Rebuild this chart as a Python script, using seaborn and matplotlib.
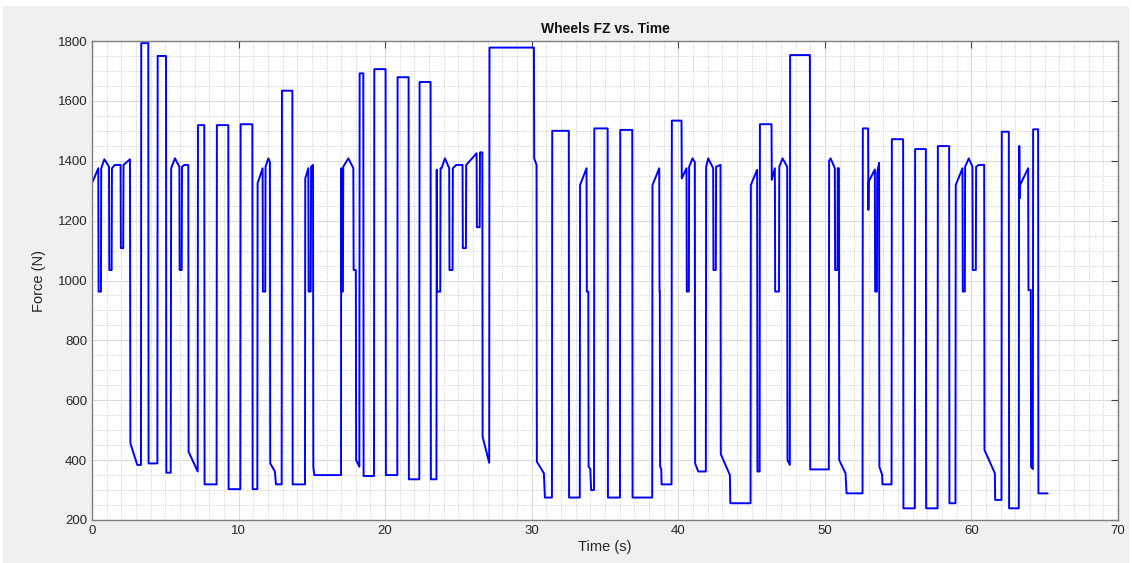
import numpy as np
import pandas as pd
import matplotlib
matplotlib.use('Agg')
import matplotlib.pyplot as plt
import seaborn as sns
from matplotlib.ticker import MultipleLocator
from matplotlib.patches import Rectangle

# breakpoints of the wheel load trace
time_s = [
    0.00, 0.43, 0.45, 0.61, 0.63, 0.84, 1.16, 1.18, 1.34, 1.36, 1.55, 1.95, 1.97, 2.13, 2.15, 2.59,
    2.62, 3.09, 3.34, 3.36, 3.84, 3.86, 4.46, 4.48, 5.05, 5.07, 5.37, 5.40, 5.66, 5.96, 5.98, 6.12,
    6.14, 6.30, 6.57, 6.59, 7.21, 7.23, 7.66, 7.68, 8.50, 8.52, 9.30, 9.32, 10.12, 10.14, 10.94, 10.96,
    11.28, 11.30, 11.64, 11.66, 11.82, 11.84, 12.03, 12.14, 12.16, 12.48, 12.55, 12.94, 12.96, 13.67,
    13.69, 14.53, 14.55, 14.76, 14.78, 14.92, 14.95, 15.08, 15.10, 15.17, 16.99, 17.00, 17.02, 17.12,
    17.14, 17.49, 17.83, 17.85, 18.00, 18.02, 18.24, 18.26, 18.51, 18.53, 19.24, 19.26, 20.03, 20.05,
    20.83, 20.85, 21.60, 21.62, 22.33, 22.35, 23.10, 23.12, 23.50, 23.52, 23.54, 23.76, 23.78, 23.85,
    24.08, 24.37, 24.39, 24.60, 24.62, 24.85, 25.28, 25.30, 25.51, 25.53, 26.24, 26.26, 26.45, 26.47,
    26.63, 26.65, 27.10, 27.12, 30.15, 30.17, 30.33, 30.35, 30.83, 30.90, 31.38, 31.40, 32.53, 32.55,
    33.28, 33.30, 33.74, 33.76, 33.86, 33.88, 34.00, 34.05, 34.25, 34.27, 35.18, 35.20, 36.02, 36.04,
    36.86, 36.88, 38.22, 38.24, 38.70, 38.72, 38.74, 38.76, 38.84, 38.86, 39.54, 39.56, 40.22, 40.24,
    40.56, 40.58, 40.72, 40.74, 40.97, 41.13, 41.15, 41.36, 41.88, 41.90, 42.04, 42.38, 42.40, 42.56,
    42.58, 42.88, 42.90, 43.52, 43.55, 44.93, 44.95, 45.38, 45.40, 45.55, 45.57, 46.36, 46.38, 46.59,
    46.61, 46.87, 46.89, 47.11, 47.43, 47.45, 47.61, 47.63, 48.98, 49.00, 50.27, 50.29, 50.39, 50.68,
    50.70, 50.86, 50.88, 50.96, 50.98, 51.41, 51.48, 52.57, 52.59, 52.95, 52.97, 52.99, 53.41, 53.43,
    53.55, 53.57, 53.70, 53.72, 53.91, 53.93, 54.55, 54.57, 55.34, 55.36, 56.14, 56.16, 56.89, 56.91,
    57.69, 57.71, 58.48, 58.50, 58.91, 58.93, 59.39, 59.41, 59.55, 59.57, 59.82, 60.07, 60.09, 60.30,
    60.32, 60.50, 60.87, 60.89, 61.60, 61.62, 62.05, 62.07, 62.55, 62.57, 63.23, 63.25, 63.28, 63.30,
    63.32, 63.87, 63.89, 64.05, 64.07, 64.19, 64.21, 64.55, 64.57, 65.20,
]
force_n = [
    1325, 1375, 963, 963, 1375, 1405, 1380, 1035, 1035, 1375, 1386, 1386, 1108, 1108, 1386, 1405,
    456, 384, 384, 1793, 1793, 389, 389, 1750, 1750, 358, 358, 1375, 1408, 1380, 1035, 1035,
    1380, 1386, 1386, 428, 362, 1519, 1519, 319, 319, 1519, 1519, 303, 303, 1522, 1522, 303,
    303, 1325, 1375, 963, 963, 1380, 1408, 1395, 389, 362, 319, 319, 1634, 1634,
    319, 319, 1341, 1375, 963, 963, 1380, 1386, 378, 350, 350, 1375, 963, 963,
    1380, 1408, 1375, 1035, 1035, 400, 378, 1692, 1692, 347, 347, 1706, 1706, 350,
    350, 1679, 1679, 336, 336, 1663, 1663, 336, 336, 1370, 963, 963, 1375, 1375,
    1408, 1375, 1035, 1035, 1375, 1386, 1386, 1108, 1108, 1386, 1425, 1178, 1178, 1428,
    1428, 478, 391, 1778, 1778, 1408, 1386, 395, 356, 275, 275, 1500, 1500, 275,
    275, 1319, 1375, 963, 963, 378, 370, 300, 300, 1508, 1508, 275, 275, 1503,
    1503, 275, 275, 1319, 1375, 963, 963, 378, 370, 319, 319, 1534, 1534, 1341,
    1375, 963, 963, 1380, 1408, 1395, 389, 362, 362, 1380, 1408, 1375, 1035, 1035,
    1380, 1386, 420, 350, 256, 256, 1319, 1370, 362, 362, 1522, 1522, 1336, 1375,
    963, 963, 1380, 1408, 1380, 400, 384, 1753, 1753, 369, 369, 1400, 1408, 1375,
    1035, 1035, 1375, 1375, 400, 356, 289, 289, 1508, 1508, 1236, 1330, 1371, 963,
    963, 1360, 1393, 378, 350, 319, 319, 1472, 1472, 239, 239, 1439, 1439, 239,
    239, 1449, 1449, 256, 256, 1319, 1375, 963, 963, 1380, 1408, 1380, 1035, 1035,
    1380, 1386, 1386, 434, 356, 267, 267, 1497, 1497, 239, 239, 1449, 1449, 1275,
    1319, 1375, 968, 968, 378, 370, 1505, 1505, 289, 289,
]

df = pd.DataFrame({'Time': time_s, 'Force': force_n})

sns.set_style('white')
plt.rcParams['font.family'] = ['Liberation Sans', 'DejaVu Sans']

fig = plt.figure(figsize=(11.32, 5.63), dpi=100, facecolor='white')
# grey window background inside a thin white frame
fig.patches.append(Rectangle((3 / 1132, 0), 1 - 6 / 1132, 1 - 6 / 563,
                             transform=fig.transFigure, facecolor='#f0f0f0',
                             edgecolor='none', zorder=-10))
ax = fig.add_axes([92 / 1132, 1 - 520 / 563, (1118 - 92) / 1132, (520 - 41) / 563])
ax.set_facecolor('white')

sns.lineplot(data=df, x='Time', y='Force', sort=False, estimator=None,
             color='#0000ff', linewidth=1.4, ax=ax)

ax.set_xlim(0, 70)
ax.set_ylim(200, 1800)
ax.xaxis.set_major_locator(MultipleLocator(10))
ax.xaxis.set_minor_locator(MultipleLocator(1))
ax.yaxis.set_major_locator(MultipleLocator(200))
ax.yaxis.set_minor_locator(MultipleLocator(50))

ax.grid(which='major', color='#dcdcdc', linestyle='-', linewidth=0.8)
ax.grid(which='minor', color='#c0c0c0', linestyle=':', linewidth=0.6)
ax.set_axisbelow(True)

for sp in ax.spines.values():
    sp.set_color('#7f7f7f')
    sp.set_linewidth(1.0)

ax.tick_params(which='major', direction='in', length=5, width=0.8, color='#404040',
               top=True, right=True, labelsize=9.5, labelcolor='#262626')
ax.tick_params(which='minor', length=0)

ax.set_title('Wheels FZ vs. Time', fontsize=10, fontweight='bold', color='#111111', pad=6)
ax.set_xlabel('Time (s)', fontsize=10.5, color='#262626', labelpad=2)
ax.set_ylabel('Force (N)', fontsize=10.5, color='#262626', labelpad=8)

fig.savefig('out.png', dpi=100, facecolor=fig.get_facecolor())
